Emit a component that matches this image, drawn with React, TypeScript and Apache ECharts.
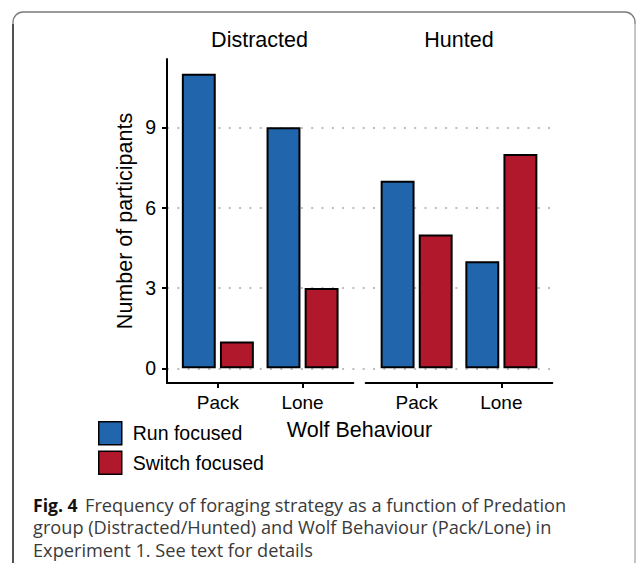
import React, { useEffect, useRef } from "react";
import * as echarts from "echarts";

const groups = ["Distracted", "Hunted"];
const behaviours = ["Pack", "Lone"];
const seriesNames = ["Run focused", "Switch focused"];
const runDistracted = [11, 9];
const switchDistracted = [1, 3];
const runHunted = [7, 4];
const switchHunted = [5, 8];
const captionLines = [
  "Frequency of foraging strategy as a function of Predation",
  "group (Distracted/Hunted) and Wolf Behaviour (Pack/Lone) in",
  "Experiment 1. See text for details",
];

const BLUE = "#2166AC";
const RED = "#B2182B";
const FONT = '"Liberation Sans", Arial, Helvetica, sans-serif';
const CAP_FONT = '"Open Sans", "Noto Sans", sans-serif';

export default function App() {
  const ref = useRef<HTMLDivElement>(null);

  useEffect(() => {
    if (!ref.current) return;
    const chart = echarts.init(ref.current, null, { renderer: "svg" });

    const yMin = -0.55;
    const yMax = 11.55;
    const top = 59;
    const h = 324;

    const frameX = (grid: number) => ({
      gridIndex: grid,
      type: "value",
      min: 0,
      max: 1,
      axisLine: { show: true, onZero: false, lineStyle: { color: "#000", width: 2 } },
      axisTick: { show: false },
      axisLabel: { show: false },
      splitLine: { show: false },
    });
    const catX = (grid: number) => ({
      gridIndex: grid,
      type: "category",
      data: behaviours,
      axisLine: { show: false, onZero: false },
      axisTick: { show: true, alignWithLabel: true, length: 5, lineStyle: { color: "#000", width: 2 } },
      axisLabel: { margin: 10, fontSize: 19, color: "#000", fontFamily: FONT },
      splitLine: { show: false },
    });
    const hiddenY = (grid: number) => ({
      gridIndex: grid,
      type: "value",
      min: yMin,
      max: yMax,
      show: false,
      axisLine: { onZero: false },
      splitLine: { show: false },
    });

    const barStyle = (color: string) => ({
      color,
      borderColor: "#000",
      borderWidth: 2,
    });

    const mkBar = (name: string, data: number[], grid: number, color: string) => ({
      type: "bar",
      name,
      xAxisIndex: grid,
      yAxisIndex: grid,
      data,
      barWidth: 33.9,
      barGap: "12.4%",
      itemStyle: barStyle(color),
    });

    const txt = (text: string, x: number, y: number, font: string, extra: any = {}) => ({
      type: "text",
      silent: true,
      x,
      y,
      ...extra,
      style: {
        text,
        font,
        fill: extra.fill || "#000",
        align: extra.align || "center",
        verticalAlign: "middle",
        textAlign: extra.align || "center",
        textVerticalAlign: "middle",
      },
    });

    const option: any = {
      animation: false,
      backgroundColor: "#fff",
      grid: [
        { left: 167, top: 127.3, width: 385.3, height: 241, containLabel: false, outerBoundsMode: "none" },
        { left: 167, top, width: 186.3, height: h, containLabel: false, outerBoundsMode: "none" },
        { left: 365.7, top, width: 186.6, height: h, containLabel: false, outerBoundsMode: "none" },
        { left: 175.5, top, width: 169.4, height: h, containLabel: false, outerBoundsMode: "none" },
        { left: 374.3, top, width: 169.4, height: h, containLabel: false, outerBoundsMode: "none" },
      ],
      xAxis: [
        { gridIndex: 0, type: "value", min: 0, max: 1, show: false, axisLine: { onZero: false } },
        frameX(1),
        frameX(2),
        catX(3),
        catX(4),
      ],
      yAxis: [
        {
          gridIndex: 0,
          type: "value",
          min: 0,
          max: 9,
          interval: 3,
          axisLine: { show: false, onZero: false },
          axisTick: { show: true, length: 5, lineStyle: { color: "#000", width: 2 } },
          axisLabel: { margin: 11, fontSize: 19.5, color: "#000", fontFamily: FONT },
          splitLine: {
            show: true,
            lineStyle: { color: "#bdbdbd", width: 1.8, type: [2, 8.3] },
          },
        },
        {
          gridIndex: 1,
          type: "value",
          min: yMin,
          max: yMax,
          axisLine: { show: true, onZero: false, lineStyle: { color: "#000", width: 2 } },
          axisTick: { show: false },
          axisLabel: { show: false },
          splitLine: { show: false },
        },
        hiddenY(2),
        hiddenY(3),
        hiddenY(4),
      ],
      legend: {
        data: seriesNames,
        orient: "vertical",
        left: 98,
        top: 421,
        padding: 0,
        itemWidth: 23,
        itemHeight: 23,
        itemGap: 5,
        icon: "rect",
        itemStyle: { borderColor: "#000", borderWidth: 1.5 },
        textStyle: { fontSize: 19.5, color: "#000", fontFamily: FONT, padding: [0, 0, 0, 6] },
        selectedMode: false,
      },
      series: [
        mkBar(seriesNames[0], runDistracted, 3, BLUE),
        mkBar(seriesNames[1], switchDistracted, 3, RED),
        mkBar(seriesNames[0], runHunted, 4, BLUE),
        mkBar(seriesNames[1], switchHunted, 4, RED),
      ],
      graphic: [
        {
          type: "rect",
          silent: true,
          shape: { x: 13, y: 12, width: 622, height: 640, r: 10 },
          style: { fill: "none", stroke: "#7a7a7a", lineWidth: 1.3 },
        },
        {
          type: "line",
          silent: true,
          shape: { x1: 13, y1: 24, x2: 13, y2: 563 },
          style: { stroke: "#222", lineWidth: 1.3 },
        },
        {
          type: "line",
          silent: true,
          shape: { x1: 635, y1: 24, x2: 635, y2: 563 },
          style: { stroke: "#d6d6d6", lineWidth: 1.3 },
        },
        txt(groups[0], 259.5, 39.5, `21.5px ${FONT}`),
        txt(groups[1], 459, 39.5, `21.5px ${FONT}`),
        txt("Number of participants", 125, 221, `21.5px ${FONT}`, { rotation: Math.PI / 2 }),
        txt("Wolf Behaviour", 359.5, 429.5, `21.5px ${FONT}`),
        txt("Fig. 4", 33, 505, `bold 17.6px ${CAP_FONT}`, { align: "left", fill: "#111" }),
        ...captionLines.map((t, i) =>
          txt(t, i === 0 ? 85 : 33, 505 + i * 22.3, `18.2px ${CAP_FONT}`, {
            align: "left",
            fill: "#3a3a3a",
          })
        ),
      ],
    };

    chart.setOption(option);
    return () => chart.dispose();
  }, []);

  return (
    <div
      ref={ref}
      style={{ position: "fixed", left: 0, top: 0, width: 637, height: 563, background: "#fff" }}
    />
  );
}
